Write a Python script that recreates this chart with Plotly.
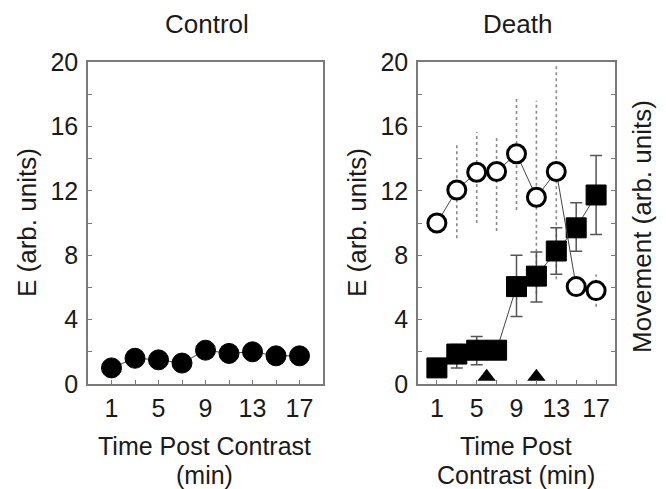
import plotly.graph_objects as go

# ---- data ----
time_min = [1, 3, 5, 7, 9, 11, 13, 15, 17]
control_E = [1.0, 1.6, 1.5, 1.3, 2.1, 1.9, 2.0, 1.75, 1.75]
death_E = [1.0, 1.86, 2.1, 2.1, 6.05, 6.7, 8.26, 9.7, 11.74]
death_E_err_up = [0.0, 0.6, 0.85, 0.2, 1.95, 1.5, 1.45, 1.55, 2.45]
death_E_err_down = [0.0, 0.86, 0.9, 0.2, 1.85, 1.6, 1.45, 1.45, 2.45]
death_move = [10.0, 12.05, 13.15, 13.2, 14.3, 11.6, 13.2, 6.05, 5.8]
move_err_up = [0.0, 2.95, 2.5, 2.2, 3.4, 6.0, 6.7, 0.5, 1.0]
move_err_down = [0.0, 3.0, 3.15, 3.7, 3.5, 6.0, 6.7, 0.5, 1.0]
event_t = [6, 11]
event_y = [0.45, 0.45]

x_tickvals = [1, 3, 5, 7, 9, 11, 13, 15, 17]
x_ticktext = ["1", "", "5", "", "9", "", "13", "", "17"]
y_tickvals = [0, 2, 4, 6, 8, 10, 12, 14, 16, 18, 20]
y_ticktext = ["0", "", "4", "", "8", "", "12", "", "16", "", "20"]

W, H = 666, 489
FONT = "Liberation Sans, Arial, sans-serif"
FS_TICK = 25
FS_TITLE = 26
FS_XTITLE = 25
TXT = "#1a1a1a"
AXC = "#7a7a7a"
LINEC = "#444444"

fig = go.Figure()

# Control panel
fig.add_trace(go.Scatter(
    x=time_min, y=control_E, mode="lines+markers",
    line=dict(color=LINEC, width=1),
    marker=dict(symbol="circle", size=20, color="black", line=dict(color="black", width=1)),
    xaxis="x", yaxis="y", showlegend=False))

# Death panel: movement dotted error bars (built from data)
ex, ey = [], []
for t, m, u, d in zip(time_min, death_move, move_err_up, move_err_down):
    if u > 0 or d > 0:
        ex += [t, t, None]
        ey += [m - d, m + u, None]
fig.add_trace(go.Scatter(
    x=ex, y=ey, mode="lines",
    line=dict(color="#8a8a8a", width=1.6, dash="dot"),
    xaxis="x2", yaxis="y2", showlegend=False, hoverinfo="skip"))

# Death panel: E squares with error bars
fig.add_trace(go.Scatter(
    x=time_min, y=death_E, mode="lines+markers",
    line=dict(color=LINEC, width=1),
    error_y=dict(type="data", symmetric=False, array=death_E_err_up,
                 arrayminus=death_E_err_down, color="#555555", thickness=1.5, width=6),
    marker=dict(symbol="square", size=20, color="black", line=dict(color="black", width=1)),
    xaxis="x2", yaxis="y2", showlegend=False))

# Death panel: movement open circles
fig.add_trace(go.Scatter(
    x=time_min, y=death_move, mode="lines+markers",
    line=dict(color=LINEC, width=1),
    marker=dict(symbol="circle", size=18, color="white", line=dict(color="black", width=3)),
    xaxis="x2", yaxis="y2", showlegend=False))

# Event triangles
fig.add_trace(go.Scatter(
    x=event_t, y=event_y, mode="markers",
    marker=dict(symbol="triangle-up", size=16, color="black"),
    xaxis="x2", yaxis="y2", showlegend=False))

dom1 = [88 / W, 323 / W]
dom2 = [418 / W, 615 / W]
ydom = [1 - 384 / H, 1 - 62 / H]

xcommon = dict(tickvals=x_tickvals, ticktext=x_ticktext, ticks="inside", ticklen=4,
               tickcolor=AXC, showline=True, linecolor=AXC, linewidth=1.5, mirror=True,
               showgrid=False, zeroline=False, automargin=False,
               tickfont=dict(size=FS_TICK, color=TXT, family=FONT),
               ticklabelstandoff=1)
ycommon = dict(tickvals=y_tickvals, ticktext=y_ticktext, ticks="inside", ticklen=4,
               tickcolor=AXC, showline=True, linecolor=AXC, linewidth=1.5,
               showgrid=False, zeroline=False, range=[0, 20], automargin=False,
               tickfont=dict(size=FS_TICK, color=TXT, family=FONT), ticklabelstandoff=3)

fig.update_layout(
    template="none",
    width=W, height=H, margin=dict(l=0, r=0, t=0, b=0, pad=0),
    paper_bgcolor="white", plot_bgcolor="white",
    font=dict(family=FONT, size=FS_TICK, color=TXT),
    showlegend=False,
    xaxis=dict(domain=dom1, range=[-1, 19], anchor="y", **xcommon),
    yaxis=dict(domain=ydom, anchor="x", mirror=True, **ycommon),
    xaxis2=dict(domain=dom2, range=[-0.9, 18.9], anchor="y2", **xcommon),
    yaxis2=dict(domain=ydom, anchor="x2", mirror="ticks", **ycommon),
)

def ann(text, x, y, angle=0, size=FS_TITLE):
    fig.add_annotation(text=text, x=x / W, y=1 - y / H, xref="paper", yref="paper",
                       showarrow=False, textangle=angle, xanchor="center", yanchor="middle",
                       font=dict(size=size, color=TXT, family=FONT))

ann("Control", 207, 24)
ann("Death", 517, 24)
ann("E (arb. units)", 27, 223, -90)
ann("E (arb. units)", 357, 223, -90)
ann("Movement (arb. units)", 642, 227, -90)
ann("Time Post Contrast", 204, 446, size=FS_XTITLE)
ann("(min)", 204, 475, size=FS_XTITLE)
ann("Time Post", 516, 446, size=FS_XTITLE)
ann("Contrast (min)", 516, 475, size=FS_XTITLE)

fig.write_html("out.html", config={"displayModeBar": False},
               post_script="document.body.style.margin='0';document.body.style.padding='0';")
